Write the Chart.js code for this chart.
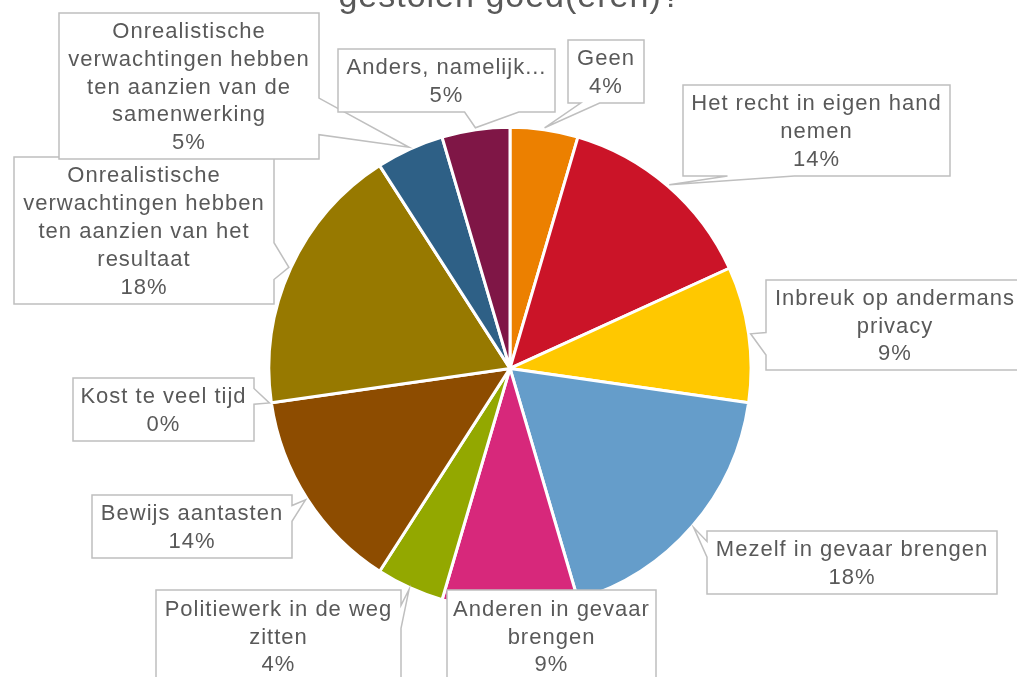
<!DOCTYPE html>
<html>
<head>
<meta charset="utf-8">
<script src="https://cdn.jsdelivr.net/npm/chart.js@4.4.1/dist/chart.umd.min.js"></script>
<style>
    html, body { margin: 0; padding: 0; background: #fff; overflow: hidden; }
    #wrap { width: 1017px; height: 677px; }
</style>
</head>
<body>
<div id="wrap"><canvas id="pieChart" width="1017" height="677"></canvas></div>
<script>
const titleText = 'gestolen goed(eren)?';

// categorieën, zoals ze in de labels afgebroken worden
const categories = [
    ['Geen'],
    ['Het recht in eigen hand', 'nemen'],
    ['Inbreuk op andermans', 'privacy'],
    ['Mezelf in gevaar brengen'],
    ['Anderen in gevaar', 'brengen'],
    ['Politiewerk in de weg', 'zitten'],
    ['Bewijs aantasten'],
    ['Kost te veel tijd'],
    ['Onrealistische', 'verwachtingen hebben', 'ten aanzien van het', 'resultaat'],
    ['Onrealistische', 'verwachtingen hebben', 'ten aanzien van de', 'samenwerking'],
    ['Anders, namelijk...']
];
const counts = [1, 3, 2, 4, 2, 1, 3, 0, 4, 1, 1];
const percentLabels = ['4%', '14%', '9%', '18%', '9%', '4%', '14%', '0%', '18%', '5%', '5%'];

const sliceColors = ['#ec8000', '#cb1428', '#ffc800', '#659dca', '#d7287b', '#93a800',
                     '#8d4c00', '#6f6f6f', '#977900', '#2e6086', '#7f1646'];

// kaders van de callouts: x, y, breedte, hoogte, zijde van de wijzer
const calloutBoxes = [
    [568, 40, 76, 63, 'bottom'],
    [683, 85, 267, 91, 'bottom'],
    [766, 280, 258, 90, 'left'],
    [707, 531, 290, 63, 'left'],
    [447, 590, 209, 92, null],
    [156, 590, 245, 92, 'right'],
    [92, 495, 200, 63, 'right'],
    [73, 378, 181, 63, 'right'],
    [14, 157, 260, 147, 'right'],
    [59, 13, 260, 146, 'right'],
    [338, 49, 217, 63, 'bottom']
];

const FONT = "'Liberation Sans', Arial, sans-serif";
const TEXT_COLOR = '#595959';
const LINE_H = 27.8;

function calloutPath(ctx, box, tip) {
    const [x, y, w, h, side] = box;
    const dxPos = tip.x - (x + w / 2);
    const dyPos = tip.y - (y + h / 2);
    const x1 = x + w * (dxPos > 0 ? 7 : 2) / 12, x2 = x + w * (dxPos > 0 ? 10 : 5) / 12;
    const y1 = y + h * (dyPos > 0 ? 7 : 2) / 12, y2 = y + h * (dyPos > 0 ? 10 : 5) / 12;
    ctx.beginPath();
    ctx.moveTo(x, y);
    if (side === 'top') { ctx.lineTo(x1, y); ctx.lineTo(tip.x, tip.y); ctx.lineTo(x2, y); }
    ctx.lineTo(x + w, y);
    if (side === 'right') { ctx.lineTo(x + w, y1); ctx.lineTo(tip.x, tip.y); ctx.lineTo(x + w, y2); }
    ctx.lineTo(x + w, y + h);
    if (side === 'bottom') { ctx.lineTo(x2, y + h); ctx.lineTo(tip.x, tip.y); ctx.lineTo(x1, y + h); }
    ctx.lineTo(x, y + h);
    if (side === 'left') { ctx.lineTo(x, y2); ctx.lineTo(tip.x, tip.y); ctx.lineTo(x, y1); }
    ctx.closePath();
}

const spacingPlugin = {
    id: 'spacing',
    beforeDraw(chart) {
        chart.ctx.letterSpacing = '1px';
    }
};

const calloutPlugin = {
    id: 'callouts',
    afterDatasetsDraw(chart) {
        const ctx = chart.ctx;
        const arcs = chart.getDatasetMeta(0).data;
        ctx.save();
        ctx.letterSpacing = '1px';
        arcs.forEach((arc, i) => {
            const p = arc.getProps(['x', 'y', 'startAngle', 'endAngle', 'outerRadius'], true);
            const mid = (p.startAngle + p.endAngle) / 2;
            const tip = {
                x: p.x + Math.cos(mid) * (p.outerRadius + 2),
                y: p.y + Math.sin(mid) * (p.outerRadius + 2)
            };
            const box = calloutBoxes[i];
            calloutPath(ctx, box, tip);
            ctx.fillStyle = '#ffffff';
            ctx.fill();
            ctx.strokeStyle = '#bfbfbf';
            ctx.lineWidth = 1.5;
            ctx.stroke();

            const lines = categories[i].concat([percentLabels[i]]);
            const [bx, by, bw, bh] = box;
            const cx = bx + bw / 2;
            const y0 = by + bh / 2 - (lines.length - 1) * LINE_H / 2 + 1.5;
            ctx.fillStyle = TEXT_COLOR;
            ctx.font = '22px ' + FONT;
            ctx.textAlign = 'center';
            ctx.textBaseline = 'middle';
            lines.forEach((t, k) => ctx.fillText(t, cx, y0 + k * LINE_H));
        });
        ctx.restore();
    }
};

new Chart(document.getElementById('pieChart'), {
    type: 'pie',
    data: {
        labels: categories.map(c => c.join(' ')),
        datasets: [{
            data: counts,
            backgroundColor: sliceColors,
            borderColor: '#ffffff',
            borderWidth: 3
        }]
    },
    options: {
        responsive: false,
        animation: false,
        layout: { padding: { top: 0, bottom: 66, left: 267, right: 264 } },
        plugins: {
            legend: { display: false },
            tooltip: { enabled: false },
            title: {
                display: true,
                text: titleText,
                color: TEXT_COLOR,
                font: { family: FONT, size: 34, weight: 'normal', lineHeight: 1.2 },
                padding: { top: -23, bottom: 108 }
            }
        }
    },
    plugins: [spacingPlugin, calloutPlugin]
});
</script>
</body>
</html>
